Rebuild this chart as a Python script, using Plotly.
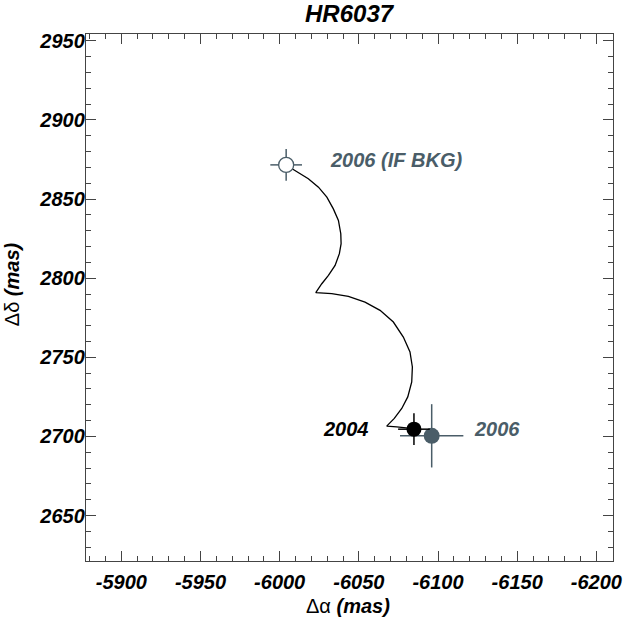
import plotly.graph_objects as go

# ---- data ----
track_x = [-6004.5, -6011.8, -6018.1, -6024.5, -6029.8, -6033.9, -6037.1, -6038.6, -6038.8,
           -6037.7, -6035.0, -6030.8, -6026.6, -6022.8, -6032.9, -6043.4, -6053.9, -6063.4,
           -6071.8, -6078.1, -6082.3, -6083.8, -6083.4, -6080.9, -6077.1, -6072.4, -6067.6,
           -6073.9, -6079.2, -6084.4]
track_y = [2871.2, 2866.9, 2862.8, 2857.5, 2851.2, 2843.8, 2836.5, 2828.1, 2821.8,
           2815.5, 2808.1, 2801.8, 2796.5, 2790.9, 2790.2, 2788.5, 2784.9, 2779.7,
           2772.3, 2762.8, 2753.4, 2743.9, 2734.4, 2725.0, 2717.7, 2711.4, 2706.5,
           2706.0, 2705.7, 2705.0]

bkg_x, bkg_y, bkg_ex, bkg_ey = [-6004.1], [2871.6], [10], [10]
p2004_x, p2004_y, p2004_ex, p2004_ey = [-6084.8], [2704.6], [10], [10]
p2006_x, p2006_y, p2006_ex, p2006_ey = [-6096.0], [2700.4], [20], [20]

x_range = [-5877.7, -6210.5]
y_range = [2621.3, 2954.3]

x_tickvals = [-5900, -5950, -6000, -6050, -6100, -6150, -6200]
x_ticktext = ["-5900", "-5950", "-6000", "-6050", "-6100", "-6150", "-6200"]
y_tickvals = [2650, 2700, 2750, 2800, 2850, 2900, 2950]
y_ticktext = ["2650", "2700", "2750", "2800", "2850", "2900", "2950"]

label_bkg = "2006 (IF BKG)"
label_2004 = "2004"
label_2006 = "2006"

SLATE = "#4a5d68"
AXC = "#444444"
FONT = "Liberation Sans, Arial, sans-serif"

fig = go.Figure()
fig.add_trace(go.Scatter(x=track_x, y=track_y, mode="lines",
                         line=dict(color="black", width=1.3), hoverinfo="skip"))
fig.add_trace(go.Scatter(x=bkg_x, y=bkg_y, mode="markers",
                         marker=dict(size=15, color="white", line=dict(color=SLATE, width=1.3)),
                         error_x=dict(type="data", array=bkg_ex, color=SLATE, thickness=1.5, width=0),
                         error_y=dict(type="data", array=bkg_ey, color=SLATE, thickness=1.5, width=0)))
fig.add_trace(go.Scatter(x=p2006_x, y=p2006_y, mode="markers",
                         marker=dict(size=16, color=SLATE, line=dict(width=0)),
                         error_x=dict(type="data", array=p2006_ex, color=SLATE, thickness=1.5, width=0),
                         error_y=dict(type="data", array=p2006_ey, color=SLATE, thickness=1.5, width=0)))
fig.add_trace(go.Scatter(x=p2004_x, y=p2004_y, mode="markers",
                         marker=dict(size=15, color="black", line=dict(width=0)),
                         error_x=dict(type="data", array=p2004_ex, color="black", thickness=1.5, width=0),
                         error_y=dict(type="data", array=p2004_ey, color="black", thickness=1.5, width=0)))

lab_font = dict(family=FONT, size=20, weight="bold", style="italic")
fig.add_annotation(x=-6030.5, y=2875, text=label_bkg, showarrow=False, xanchor="left",
                   yanchor="middle", font=dict(lab_font, color=SLATE))
fig.add_annotation(x=-6057.7, y=2705, text=label_2004, showarrow=False, xanchor="right",
                   yanchor="middle", font=dict(lab_font, color="black"))
fig.add_annotation(x=-6121.2, y=2705, text=label_2006, showarrow=False, xanchor="left",
                   yanchor="middle", font=dict(lab_font, color=SLATE))

# axis titles
fig.add_annotation(xref="paper", yref="paper", x=0.497, y=-0.085, yanchor="middle",
                   text="Δα <b><i>(mas)</i></b>", showarrow=False,
                   font=dict(family=FONT, size=20, color="black"))
fig.add_annotation(xref="paper", yref="paper", x=-0.116, y=0.525, xanchor="right",
                   text="Δδ <b><i>(mas)</i></b>", showarrow=False, textangle=-90,
                   font=dict(family=FONT, size=20, color="black"))

minor_common = dict(dtick=10, ticks="inside", ticklen=5, tickcolor=AXC, tickwidth=1)
axis_common = dict(showgrid=False, zeroline=False, ticks="inside", ticklen=10, tickwidth=1,
                   tickcolor=AXC, showline=True, linecolor=AXC, linewidth=1.2,
                   mirror="ticks", ticklabeloverflow="allow", tickmode="array",
                   automargin=False, showspikes=False,
                   tickfont=dict(family=FONT, size=20, color="black", weight="bold", style="italic"))

fig.update_layout(
    width=624, height=622,
    margin=dict(l=86, r=11, t=34, b=61, autoexpand=False),
    paper_bgcolor="white", plot_bgcolor="white",
    showlegend=False,
    hovermode=False,
    title=dict(text="HR6037", x=0.5594, xanchor="center", y=0.978, yanchor="middle",
               font=dict(family=FONT, size=24,
                         color="black", weight="bold", style="italic")),
    xaxis=dict(axis_common, range=x_range, tickvals=x_tickvals, ticktext=x_ticktext,
               ticklabelstandoff=3, minor=dict(minor_common, tick0=-5900)),
    yaxis=dict(axis_common, range=y_range, tickvals=y_tickvals, ticktext=y_ticktext,
               ticklabelstandoff=-4, minor=dict(minor_common, tick0=2650)),
)

fig.write_html("out.html", config={"displayModeBar": False, "staticPlot": True},
               post_script="document.body.style.margin='0';document.body.style.padding='0';"
                           "document.documentElement.style.overflow='hidden';")
